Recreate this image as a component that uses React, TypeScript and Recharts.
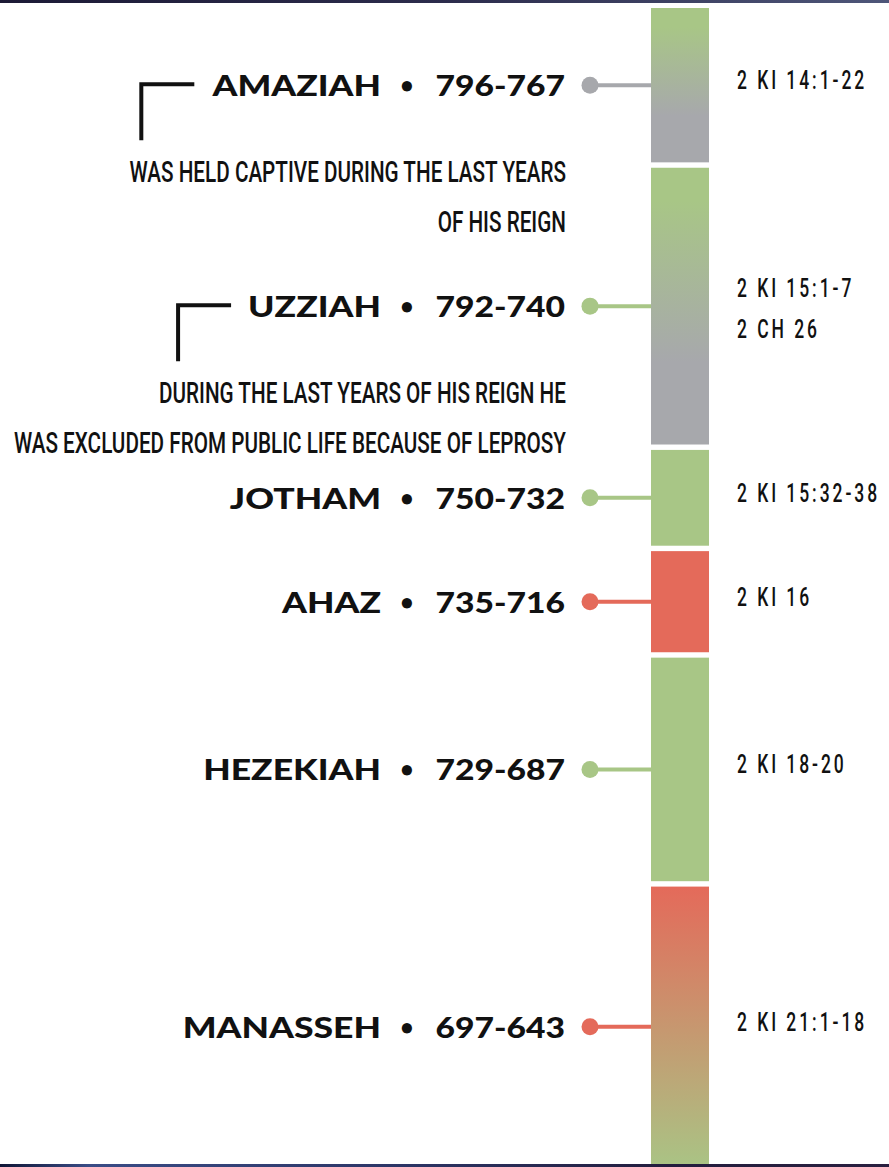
import React, { useLayoutEffect, useRef, useState } from 'react';
import { BarChart, Bar, XAxis, YAxis } from 'recharts';

// ---- data ----
const kings = ['AMAZIAH', 'UZZIAH', 'JOTHAM', 'AHAZ', 'HEZEKIAH', 'MANASSEH'];
const reignStart = [796, 792, 750, 735, 729, 697];
const reignEnd = [767, 740, 732, 716, 687, 643];
const references = [
  ['2 KI 14:1-22'],
  ['2 KI 15:1-7', '2 CH 26'],
  ['2 KI 15:32-38'],
  ['2 KI 16'],
  ['2 KI 18-20'],
  ['2 KI 21:1-18'],
];
const notes = [
  ['WAS HELD CAPTIVE DURING THE LAST YEARS', 'OF HIS REIGN'],
  ['DURING THE LAST YEARS OF HIS REIGN HE', 'WAS EXCLUDED FROM PUBLIC LIFE BECAUSE OF LEPROSY'],
  [],
  [],
  [],
  [],
];
// evaluation at start and end of reign, and overall
const startVerdict = ['good', 'good', 'good', 'bad', 'good', 'bad'];
const endVerdict = ['neutral', 'neutral', 'good', 'bad', 'good', 'good'];
const overallVerdict = ['neutral', 'good', 'good', 'bad', 'good', 'bad'];

// ---- styles ----
const W = 889;
const H = 1167;
const CHART_H = 1176; // the last segment runs past the bottom edge of the picture
const MARGIN = { top: 8, right: 180, bottom: 2, left: 651 };
const GAP_PX = 5.4;
const COLORS: Record<string, string> = {
  good: '#a8c686',
  neutral: '#a7a8ac',
  bad: '#e46a5a',
};
const TEXT = '#111111';
const BOLD_FONT = "Lato, 'Open Sans', sans-serif";
const NAME_SCALE = 1.27;
const YEARS_SCALE = 1.2;
const NARROW_FONT = "Roboto, 'Noto Sans', sans-serif";
const NOTE_SCALE = 0.69;
const REF_SCALE = 0.7;

const durations = kings.map((_, i) => reignStart[i] - reignEnd[i]);
const totalYears = durations.reduce((a, b) => a + b, 0);
const plotH = CHART_H - MARGIN.top - MARGIN.bottom;
const gapYears = (GAP_PX * totalYears) / (plotH - (kings.length - 1) * GAP_PX);

const row: Record<string, number | string> = { name: 'reigns' };
kings.forEach((_, i) => {
  row[`k${i}`] = durations[i];
  if (i < kings.length - 1) row[`g${i}`] = gapYears;
});
const chartData = [row];
const domainMax = totalYears + (kings.length - 1) * gapYears;

function NarrowText({ x, y, children, anchor, size, scale, spacing }: any) {
  return (
    <text
      x={0}
      y={0}
      transform={`translate(${x},${y}) scale(${scale},1)`}
      textAnchor={anchor}
      fontFamily={NARROW_FONT}
      fontWeight={500}
      fontSize={size}
      letterSpacing={spacing || 0}
      fill={TEXT}
    >
      {children}
    </text>
  );
}

function BoldText({ x, y, anchor, children, textRef, scale }: any) {
  return (
    <text
      ref={textRef}
      x={0}
      y={0}
      transform={`translate(${x},${y}) scale(${scale},1)`}
      textAnchor={anchor}
      fontFamily={BOLD_FONT}
      fontWeight={900}
      fontSize={28}
      fill={TEXT}
    >
      {children}
    </text>
  );
}

function KingLabel({ xEnd, cy, i }: any) {
  const ref = useRef<SVGTextElement>(null);
  const [nameW, setNameW] = useState<number | null>(null);
  useLayoutEffect(() => {
    if (ref.current) {
      const b = ref.current.getBBox();
      setNameW(b.width * NAME_SCALE);
    }
  }, []);
  const hasNote = notes[i].length > 0;
  const by = cy - 1;
  const nameEnd = xEnd - 185;
  const left = nameW !== null ? nameEnd - nameW : null;
  return (
    <g>
      <BoldText textRef={ref} x={nameEnd} y={cy + 11} anchor="end" scale={NAME_SCALE}>
        {kings[i]}
      </BoldText>
      <text
        x={xEnd - 159}
        y={cy + 8}
        textAnchor="middle"
        fontFamily={BOLD_FONT}
        fontWeight={900}
        fontSize={22}
        fill={TEXT}
      >
        •
      </text>
      <BoldText x={xEnd - 1} y={cy + 11} anchor="end" scale={YEARS_SCALE}>
        {`${reignStart[i]}-${reignEnd[i]}`}
      </BoldText>
      {hasNote && left !== null && (
        <path
          d={`M${left - 17},${by} H${left - 72} M${left - 70},${by - 2} V${cy + 55}`}
          stroke={TEXT}
          strokeWidth={4}
          fill="none"
        />
      )}
      {notes[i].map((line, j) => (
        <NarrowText key={j} x={xEnd} y={cy + 97 + j * 50} anchor="end" size={30} scale={NOTE_SCALE}>
          {line}
        </NarrowText>
      ))}
    </g>
  );
}

function makeShape(i: number) {
  return (props: any) => {
    const { x, y, width, height } = props;
    const top = Math.min(y, y + height);
    const h = Math.abs(height);
    const visibleBottom = Math.min(top + h, H);
    const cy = (top + visibleBottom) / 2;
    const gid = `grad-${i}`;
    const c0 = COLORS[startVerdict[i]];
    const c1 = COLORS[endVerdict[i]];
    const mixed = endVerdict[i] === 'neutral';
    const dotColor = COLORS[overallVerdict[i]];
    const dotX = x - 61;
    const refs = references[i];
    const n = refs.length;
    return (
      <g>
        <defs>
          <linearGradient id={gid} x1="0" y1="0" x2="0" y2="1">
            <stop offset={mixed ? '12%' : '0%'} stopColor={c0} />
            <stop offset={mixed ? '70%' : '100%'} stopColor={c1} />
          </linearGradient>
        </defs>
        <rect x={x} y={top} width={width} height={h} fill={`url(#${gid})`} />
        <line x1={dotX} y1={cy} x2={x} y2={cy} stroke={dotColor} strokeWidth={4} />
        <circle cx={dotX} cy={cy} r={8.5} fill={dotColor} />
        <KingLabel xEnd={x - 85} cy={cy} i={i} />
        {refs.map((r, j) => (
          <NarrowText
            key={j}
            x={x + width + 28}
            y={cy + 4 + (j - (n - 1) / 2) * 41 + (n - 1) * 7}
            anchor="start"
            size={25}
            scale={REF_SCALE}
            spacing={4.2}
          >
            {r}
          </NarrowText>
        ))}
      </g>
    );
  };
}

const GapShape = () => <g />;

export default function App() {
  const bars: React.ReactNode[] = [];
  kings.forEach((k, i) => {
    bars.push(
      <Bar
        key={`k${i}`}
        dataKey={`k${i}`}
        name={k}
        stackId="reign"
        shape={makeShape(i)}
        isAnimationActive={false}
      />
    );
    if (i < kings.length - 1) {
      bars.push(
        <Bar
          key={`g${i}`}
          dataKey={`g${i}`}
          stackId="reign"
          shape={GapShape}
          fill="none"
          isAnimationActive={false}
        />
      );
    }
  });
  return (
    <div
      style={{
        position: 'absolute',
        left: 0,
        top: 0,
        width: W,
        height: H,
        background: '#ffffff',
        overflow: 'hidden',
      }}
    >
      <BarChart width={W} height={CHART_H} data={chartData} margin={MARGIN} barCategoryGap={0}>
        <XAxis dataKey="name" type="category" hide />
        <YAxis type="number" domain={[0, domainMax]} reversed hide />
        {bars}
      </BarChart>
      <div
        style={{
          position: 'absolute',
          left: 0,
          top: 0,
          width: W,
          height: 3,
          background: 'linear-gradient(90deg, #1c1a36 0%, #2c2c4c 50%, #4e5679 100%)',
        }}
      />
      <div
        style={{
          position: 'absolute',
          left: 0,
          top: H - 3,
          width: W,
          height: 3,
          background:
            'linear-gradient(90deg, #101636 0%, #3a4c86 10%, #2c3566 45%, #231d3e 75%, #2a2040 100%)',
        }}
      />
    </div>
  );
}
